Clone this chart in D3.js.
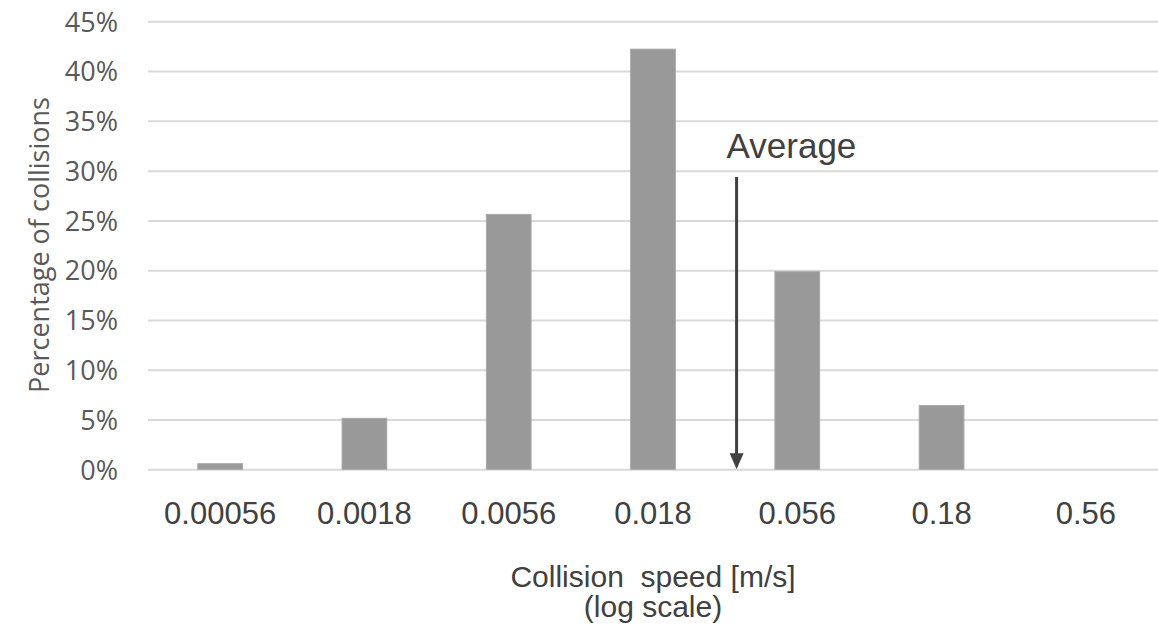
<!DOCTYPE html>
<html lang="en">
<head>
  <meta charset="UTF-8">
  <title>Collision speed distribution</title>
  <script src="https://d3js.org/d3.v7.min.js"></script>
  <style>
    body { margin: 0; padding: 0; overflow: hidden; background: #fff; }
    .ytick text { font-family: "Open Sans", sans-serif; font-size: 27px; fill: #595959; }
    .xtick text { font-family: "Liberation Sans", Arial, sans-serif; font-size: 31px; fill: #404040; }
    .label { font-family: "Liberation Sans", Arial, sans-serif; fill: #404040; white-space: pre; }
  </style>
</head>
<body>
  <svg id="chart" width="1158" height="627"></svg>

  <script>
    // Data
    const speeds = ["0.00056", "0.0018", "0.0056", "0.018", "0.056", "0.18", "0.56"];
    const percentages = [0.56, 5.12, 25.6, 42.2, 19.85, 6.41, 0];
    const yTicks = [0, 5, 10, 15, 20, 25, 30, 35, 40, 45];
    const averageSpeed = 0.0345;

    const svg = d3.select("#chart");
    const plotLeft = 148, plotRight = 1158, plotBottom = 469.3, plotTop = 21.3;

    // Scales
    const x = d3.scaleBand()
      .domain(speeds)
      .range([plotLeft, plotRight])
      .paddingInner(0.69)
      .paddingOuter(0.345);

    const y = d3.scaleLinear()
      .domain([0, 45])
      .range([plotBottom, plotTop]);

    // log position for the average marker, anchored on the band centres
    const xLog = d3.scaleLog()
      .domain([+speeds[0], +speeds[speeds.length - 1]])
      .range([x(speeds[0]) + x.bandwidth() / 2, x(speeds[speeds.length - 1]) + x.bandwidth() / 2]);

    // Gridlines + y labels
    const yAxis = svg.append("g")
      .attr("class", "ytick")
      .attr("transform", `translate(${plotLeft},0)`)
      .call(d3.axisLeft(y)
        .tickValues(yTicks)
        .tickSize(-(plotRight - plotLeft))
        .tickPadding(30)
        .tickFormat(d => d + "%"));
    yAxis.select(".domain").remove();
    yAxis.selectAll("line").attr("stroke", "#d9d9d9").attr("stroke-width", 2);
    yAxis.selectAll("text").attr("dy", "0.36em");

    // Bars
    svg.append("g")
      .selectAll("rect")
      .data(percentages)
      .join("rect")
      .attr("x", (d, i) => x(speeds[i]))
      .attr("y", d => y(d))
      .attr("width", x.bandwidth())
      .attr("height", d => plotBottom - y(d))
      .attr("fill", "#999999")
      .attr("stroke", d => d > 0 ? "#a8a8a8" : "none")
      .attr("stroke-width", 1);

    // x labels
    const xAxis = svg.append("g")
      .attr("class", "xtick")
      .attr("transform", `translate(0,${plotBottom})`)
      .call(d3.axisBottom(x).tickSize(0).tickPadding(33));
    xAxis.select(".domain").remove();

    // Axis titles
    svg.append("text")
      .attr("class", "label")
      .attr("transform", "translate(49,245) rotate(-90)")
      .attr("text-anchor", "middle")
      .style("font-family", "'Open Sans', sans-serif")
      .style("font-size", "27px")
      .style("fill", "#595959")
      .text("Percentage of collisions");

    const xTitle = svg.append("text")
      .attr("class", "label")
      .attr("text-anchor", "middle")
      .style("font-size", "30px");
    xTitle.append("tspan").attr("x", (plotLeft + plotRight) / 2).attr("y", 587).text("Collision  speed [m/s]");
    xTitle.append("tspan").attr("x", (plotLeft + plotRight) / 2).attr("y", 617).text("(log scale)");

    // Average marker
    const ax = xLog(averageSpeed);
    svg.append("text")
      .attr("class", "label")
      .attr("x", ax - 10)
      .attr("y", 158)
      .style("font-size", "35px")
      .text("Average");

    svg.append("line")
      .attr("x1", ax).attr("x2", ax)
      .attr("y1", 177).attr("y2", plotBottom - 14)
      .attr("stroke", "#404040")
      .attr("stroke-width", 3);

    svg.append("path")
      .attr("d", d3.line()([[ax - 7, plotBottom - 16], [ax + 7, plotBottom - 16], [ax, plotBottom]]) + "Z")
      .attr("fill", "#404040");
  </script>
</body>
</html>
